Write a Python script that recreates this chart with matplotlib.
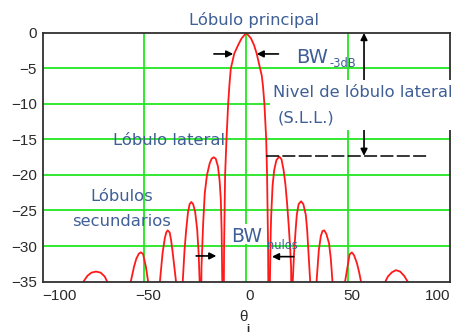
import matplotlib
matplotlib.use("Agg")
import matplotlib.pyplot as plt
from matplotlib.patches import Rectangle
from matplotlib.transforms import ScaledTranslation

# curve (theta in degrees, level in dB); values below -35 are the nulls
theta = [-100, -86, -80.5, -79.9, -78, -76, -73.8, -71.5, -69.5, -68.3, -67.5, -62.5,
         -57.3, -56.7, -55.1, -54, -52.8, -51.8, -50.7, -49.3, -48.2, -47.5, -45.3,
         -43, -42.4, -41.1, -40, -39.3, -38.6, -37.6, -36.9, -36.1, -34.5, -33.8, -32.8,
         -31.8, -31.2, -30.3, -29.5, -28.6, -27.8, -27, -26.1, -25.1, -24.1, -23.4, -22.9, -22.6, -22.4,
         -22.2, -22, -21.2, -20.4, -19.3, -18, -17, -16, -15, -13.9, -13.1, -12.5, -12.1, -11.8, -11.6, -11.4,
         -11.2, -10.9, -10.4, -9.7, -8.9, -8.2, -7.6, -5.9, -4, -2.3, 0, 2.3, 3.8, 5.1, 6.8,
         7.6, 8.2, 8.9, 9.75, 10.2, 10.7, 11.0, 11.2,
         11.4, 11.6, 12.0, 12.2, 12.9, 13.7, 14.8, 16.2, 17.3, 18.3, 19.2, 20, 20.8, 21.6, 22.0, 22.2, 22.35,
         22.5, 22.8, 23.5, 24.2, 24.8, 25.7, 26.9, 28.0, 29.2, 29.9, 30.5, 31.4, 32, 32.9,
         33.8, 34.5, 35.6, 36.6, 37.4, 38.3, 39.3, 40.6, 41.5, 42.3, 43, 45.2,
         47.8, 48.5, 49.7, 50.7, 51.8, 52.9, 54.3, 55.4, 56.3, 57, 62.5,
         67.5, 68.3, 69.5, 71.5, 73.5, 75.5, 77.5, 79.2, 80, 86, 100]
level = [-50, -60, -36, -35, -34.2, -33.75, -33.6, -33.75, -34.3, -35, -36.5, -60,
         -36.5, -35, -32.9, -31.8, -31.1, -30.9, -31.1, -32.9, -35, -37, -60,
         -37, -35, -31, -28.9, -28.1, -27.8, -28.1, -29.2, -31, -35, -38, -60,
         -38, -35, -30.5, -27.7, -25.2, -24.1, -23.8, -24.1, -25.2, -27.7, -31, -35, -40, -60,
         -40, -33, -27, -22.6, -20, -18.4, -17.7, -17.5, -17.7, -18.8, -20.8, -23.5, -28, -35, -45, -60,
         -45, -30, -20, -14.8, -10, -7, -5, -2.9, -1.7, -0.75, 0, -0.75, -1.7, -2.9, -5,
         -6, -7.5, -10, -14.8, -20, -30, -45, -60,
         -45, -35, -28, -25.9, -21.5, -19.3, -17.9, -17.4, -17.8, -19.3, -21.3, -23.9, -27, -30.6, -33, -40, -60,
         -40, -35, -30.8, -27.8, -25.6, -24.1, -23.7, -24.1, -25.6, -27.8, -30.8, -35, -38, -60,
         -38, -35, -30.6, -28.6, -27.9, -27.8, -28.3, -29.6, -31.8, -35, -37, -60,
         -37, -35, -32.9, -31.2, -30.9, -31.3, -32.4, -33.7, -35, -36.5, -60,
         -36.5, -35, -34.3, -33.7, -33.4, -33.6, -34.2, -35, -36, -60, -50]

x_ticks = [-100, -50, 0, 50, 100]
y_ticks = [0, -5, -10, -15, -20, -25, -30, -35]
sll = -17.3

blue = "#3f5f96"
green = "#22e622"
dark = "#2a2a2a"
txt_font = "DejaVu Sans"
tick_font = "Liberation Sans"

fig = plt.figure(figsize=(4.58, 3.35), dpi=100)
ax = fig.add_axes([0.093, 0.1597, 0.8895, 0.7418])

ax.set_xlim(-100, 100)
ax.set_ylim(-35, 0)
ax.set_xticks(x_ticks)
ax.set_yticks(y_ticks)
ax.set_xticklabels([])
ax.set_yticklabels([str(t).replace("-", "\u2212") for t in y_ticks], family=tick_font, fontsize=11, color=dark)
ax.tick_params(axis="both", length=0)
ax.tick_params(axis="y", pad=4)

# x tick labels: end labels sit inside the axis ends, like the original
xt = ax.get_xaxis_transform()
for t in x_ticks:
    lab = str(t).replace("-", "\u2212")
    if t == x_ticks[0]:
        ax.text(t, -0.06, lab, transform=xt, ha="left", va="center", family=tick_font, fontsize=11, color=dark)
    elif t == x_ticks[-1]:
        ax.text(t, -0.06, lab, transform=xt, ha="right", va="center", family=tick_font, fontsize=11, color=dark)
    else:
        ax.text(t, -0.06, lab, transform=xt + ScaledTranslation(0.035, 0, fig.dpi_scale_trans),
                ha="center", va="center", family=tick_font, fontsize=11, color=dark)

for v in [-50, 0, 50]:
    ax.axvline(v, color=green, lw=1.3, zorder=1)
for v in [-5, -10, -15, -20, -25, -30]:
    ax.axhline(v, color=green, lw=1.3, zorder=1)

for s in ax.spines.values():
    s.set_color("#303030")
    s.set_linewidth(1.3)

ax.plot(theta, level, color="#ff1a1a", lw=1.3, zorder=2)

arrow = dict(arrowstyle="-|>", color="black", lw=1.2, mutation_scale=10, shrinkA=0, shrinkB=0)

# main lobe title
ax.text(3.8, 1.9, "Lóbulo principal", family=txt_font, fontsize=11.8, color=blue,
        ha="center", va="center", clip_on=False)

# -3 dB beamwidth
ax.annotate("", xy=(-6.4, -2.95), xytext=(-15.9, -2.95), arrowprops=arrow)
ax.annotate("", xy=(5.1, -2.95), xytext=(15.8, -2.95), arrowprops=arrow)
ax.text(24.5, -3.4, "BW", family=txt_font, fontsize=14, color=blue, ha="left", va="center")
ax.text(40.9, -4.3, "-3dB", family=txt_font, fontsize=8.3, color=blue, ha="left", va="center")

# side lobe level
ax.plot([9.9, 89], [sll, sll], color="black", lw=1.1, dashes=(8.5, 2.2), zorder=3, clip_on=False)
ax.annotate("", xy=(57.8, sll), xytext=(57.8, 0),
            arrowprops=dict(arrowstyle="<|-|>", color="black", lw=1.2, mutation_scale=10, shrinkA=0, shrinkB=0),
            zorder=3)
ax.add_patch(Rectangle((11.6, -13.7), 100, 7.1, facecolor="white", edgecolor="none", zorder=4, clip_on=False))
ax.text(12.9, -8.45, "Nivel de lóbulo lateral", family=txt_font, fontsize=11.8, color=blue,
        ha="left", va="center", zorder=5, clip_on=False)
ax.text(15.3, -12.0, "(S.L.L.)", family=txt_font, fontsize=11.8, color=blue,
        ha="left", va="center", zorder=5, clip_on=False)

ax.text(-37.8, -15.1, "Lóbulo lateral", family=txt_font, fontsize=11.8, color=blue, ha="center", va="center")
ax.text(-61.3, -23.05, "Lóbulos", family=txt_font, fontsize=11.8, color=blue, ha="center", va="center")
ax.text(-61.3, -26.5, "secundarios", family=txt_font, fontsize=11.8, color=blue, ha="center", va="center")

# null-to-null beamwidth
ax.annotate("", xy=(-14.7, -31.4), xytext=(-24.6, -31.4), arrowprops=arrow)
ax.annotate("", xy=(12.6, -31.5), xytext=(23.3, -31.5), arrowprops=arrow)
ax.add_patch(Rectangle((-6, -29.7), 13, 2.8, facecolor="white", edgecolor="none", zorder=3))
ax.text(-7.3, -28.7, "BW", family=txt_font, fontsize=13.6, color=blue, ha="left", va="center", zorder=4)
ax.text(10.1, -29.9, "nulos", family=txt_font, fontsize=8.3, color=blue, ha="left", va="center", zorder=4)

# x label
ax.text(-1.6, -0.143, "θ", transform=xt, family=tick_font, fontsize=11,
        color=dark, ha="center", va="center")
ax.text(0.8, -0.19, "i", transform=xt, family=tick_font, fontsize=8,
        color=dark, ha="center", va="center", fontweight="bold")

fig.savefig("out.png", dpi=100)
